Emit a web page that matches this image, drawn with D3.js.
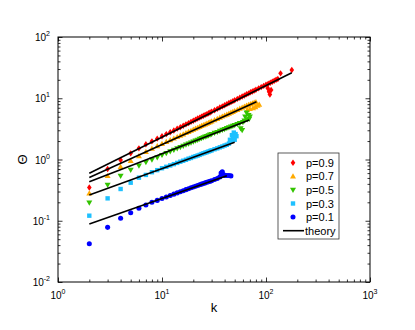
<!DOCTYPE html>
<html>
<head>
<meta charset="utf-8">
<script src="https://cdn.jsdelivr.net/npm/d3@7"></script>
<style>
  body { margin: 0; background: #fff; }
  text { font-family: "Liberation Sans", Arial, sans-serif; fill: #000; }
</style>
</head>
<body>
<div id="chart"></div>
<script>
// measured points [k, Theta]
const p09 = [[2,0.35],[3,0.70],[4,0.98],[5,1.26],[6,1.52],[7,1.77],[8,1.98],[9,2.19],[10,2.40],[11,2.60],[12,2.79],[13,2.98],[14,3.19],[15,3.37],[16,3.55],[17,3.75],[18,3.92],[19,4.12],[20,4.30],[21,4.47],[22,4.66],[23,4.82],[24,5.02],[25,5.18],[26,5.36],[27,5.50],[28,5.70],[29,5.86],[30,6.05],[32,6.38],[34,6.70],[36,7.05],[38,7.36],[40,7.70],[42,8.02],[44,8.35],[46,8.64],[48,8.96],[50,9.30],[53,9.75],[56,10.2],[59,10.7],[62,11.1],[65,11.6],[68,12.0],[71,12.5],[74,12.9],[77,13.3],[80,13.8],[85,14.5],[90,15.2],[95,15.9],[100,16.6],[104,14.6],[105,17.2],[107,12.8],[109,11.5],[110,17.9],[112,13.6],[115,18.6],[120,19.3],[125,20.0],[130,20.6],[138,25.5],[177,28.9]];
const p07 = [[2,0.28],[3,0.54],[4,0.76],[5,0.955],[6,1.14],[7,1.34],[8,1.51],[9,1.66],[10,1.80],[11,1.94],[12,2.08],[13,2.21],[14,2.34],[15,2.47],[16,2.59],[17,2.72],[18,2.84],[19,2.96],[20,3.08],[21,3.20],[22,3.31],[23,3.42],[24,3.54],[25,3.66],[26,3.77],[27,3.88],[28,3.99],[29,4.10],[30,4.21],[32,4.42],[34,4.63],[36,4.84],[38,5.05],[40,5.25],[42,5.44],[44,5.64],[46,5.84],[48,6.03],[50,6.22],[53,6.50],[56,6.78],[59,7.05],[62,7.32],[65,7.58],[66,6.4],[68,7.85],[70,6.7],[71,8.05],[74,8.3],[75,6.9],[77,8.5],[79,7.2],[80,8.7],[83,7.6],[86,7.9]];
const p05 = [[2,0.197],[3,0.384],[4,0.54],[5,0.674],[6,0.79],[7,0.90],[8,0.99],[9,1.08],[10,1.18],[11,1.27],[12,1.35],[13,1.43],[14,1.51],[15,1.59],[16,1.66],[17,1.74],[18,1.81],[19,1.88],[20,1.95],[21,2.02],[22,2.09],[23,2.16],[24,2.22],[25,2.29],[26,2.35],[27,2.40],[28,2.46],[29,2.53],[30,2.59],[32,2.71],[34,2.80],[36,2.92],[38,3.03],[40,3.12],[42,3.23],[44,3.33],[46,3.44],[48,3.53],[50,3.62],[53,3.78],[56,3.90],[57,3.2],[59,3.0],[60,4.05],[62,4.3],[63,5.0],[65,5.8],[66,4.5],[68,5.3],[69,4.6],[70,5.0]];
const p03 = [[2,0.121],[3,0.232],[4,0.33],[5,0.418],[6,0.505],[7,0.56],[8,0.62],[9,0.67],[10,0.72],[11,0.76],[12,0.80],[13,0.84],[14,0.88],[15,0.92],[16,0.955],[17,0.99],[18,1.03],[19,1.06],[20,1.10],[21,1.13],[22,1.16],[23,1.19],[24,1.23],[25,1.26],[26,1.29],[27,1.32],[28,1.35],[29,1.38],[30,1.41],[32,1.47],[34,1.52],[36,1.58],[38,1.63],[40,1.69],[42,1.74],[44,1.82],[45,2.1],[46,2.0],[47,2.5],[48,2.3],[49,2.75],[50,2.1],[51,2.6],[52,2.4]];
const p01 = [[2,0.042],[3,0.078],[4,0.11],[5,0.135],[6,0.16],[7,0.181],[8,0.20],[9,0.215],[10,0.23],[11,0.245],[12,0.258],[13,0.272],[14,0.285],[15,0.298],[16,0.31],[17,0.322],[18,0.334],[19,0.345],[20,0.356],[21,0.366],[22,0.376],[23,0.386],[24,0.396],[25,0.405],[26,0.415],[27,0.424],[28,0.433],[29,0.442],[30,0.451],[32,0.47],[34,0.49],[36,0.52],[37,0.6],[38,0.63],[39,0.57],[40,0.55],[42,0.55],[44,0.55],[46,0.54]];

// theory lines (end points of the power laws)
const theory09 = [[2,0.595],[177,26.1]];
const theory07 = [[2,0.51],[81,8.78]];
const theory05 = [[2,0.435],[69,4.41]];
const theory03 = [[2,0.263],[50,1.91]];
const theory01 = [[2,0.0885],[42,0.544]];

const seriesNames = ["p=0.9", "p=0.7", "p=0.5", "p=0.3", "p=0.1"];
const xTicks = [1, 10, 100, 1000];
const yTicks = [0.01, 0.1, 1, 10, 100];

const width = 415, height = 330;
const plotL = 58, plotR = 370, plotT = 37, plotB = 282;

const svg = d3.select("#chart").append("svg")
    .attr("width", width)
    .attr("height", height);

const x = d3.scaleLog().domain([1, 1000]).range([plotL, plotR]);
const y = d3.scaleLog().domain([0.01, 100]).range([plotB, plotT]);

// minor tick positions 2..9 per decade
const minorX = [], minorY = [];
[1, 10, 100].forEach(d => { for (let i = 2; i < 10; i++) minorX.push(d * i); });
[0.01, 0.1, 1, 10].forEach(d => { for (let i = 2; i < 10; i++) minorY.push(d * i); });

const fmtNone = () => "";
function tickAxis(axisFn, scale, vals, size, tr) {
    const g = svg.append("g")
        .attr("transform", tr)
        .call(axisFn(scale).tickValues(vals).tickSize(size).tickFormat(fmtNone));
    g.select(".domain").remove();
    g.selectAll("line").attr("stroke", "#000").attr("stroke-width", 0.8);
}
// ticks point inward on all four sides
tickAxis(d3.axisBottom, x, xTicks, -4.5, `translate(0,${plotB})`);
tickAxis(d3.axisBottom, x, minorX, -2.5, `translate(0,${plotB})`);
tickAxis(d3.axisTop, x, xTicks, -4.5, `translate(0,${plotT})`);
tickAxis(d3.axisTop, x, minorX, -2.5, `translate(0,${plotT})`);
tickAxis(d3.axisLeft, y, yTicks, -4.5, `translate(${plotL},0)`);
tickAxis(d3.axisLeft, y, minorY, -2.5, `translate(${plotL},0)`);
tickAxis(d3.axisRight, y, yTicks, -4.5, `translate(${plotR},0)`);
tickAxis(d3.axisRight, y, minorY, -2.5, `translate(${plotR},0)`);

// frame
svg.append("rect")
    .attr("x", plotL).attr("y", plotT)
    .attr("width", plotR - plotL).attr("height", plotB - plotT)
    .attr("fill", "none").attr("stroke", "#000").attr("stroke-width", 1);

// tick labels 10^n
xTicks.forEach(v => {
    const t = svg.append("text")
        .attr("x", x(v)).attr("y", plotB + 17)
        .attr("text-anchor", "middle")
        .style("font-size", "10px");
    t.append("tspan").text("10");
    t.append("tspan").attr("dy", -5).style("font-size", "7px").text(Math.round(Math.log10(v)));
});
yTicks.forEach(v => {
    const t = svg.append("text")
        .attr("x", plotL - 8).attr("y", y(v) + 4)
        .attr("text-anchor", "end")
        .style("font-size", "10px");
    t.append("tspan").text("10");
    t.append("tspan").attr("dy", -5).style("font-size", "7px").text(Math.round(Math.log10(v)));
});

// axis titles
svg.append("text")
    .attr("x", (plotL + plotR) / 2).attr("y", 312)
    .attr("text-anchor", "middle")
    .style("font-size", "13px")
    .text("k");
svg.append("text")
    .attr("transform", `translate(27,${(plotT + plotB) / 2}) rotate(-90)`)
    .attr("text-anchor", "middle")
    .style("font-size", "13px")
    .text("Θ");

// marker shapes
const markers = [
    { data: p09, color: "#ff0000", path: "M0,-3.2L2.3,0L0,3.2L-2.3,0Z" },
    { data: p07, color: "#ffaa00", path: "M0,-3L3,2.2L-3,2.2Z" },
    { data: p05, color: "#33c400", path: "M0,3L3,-2.2L-3,-2.2Z" },
    { data: p03, color: "#1ec0ff", path: "M-2.2,-2.2H2.2V2.2H-2.2Z" },
    { data: p01, color: "#0000ff", path: d3.symbol(d3.symbolCircle, 20)() }
];

markers.forEach(m => {
    svg.append("g").selectAll("path")
        .data(m.data)
        .join("path")
        .attr("d", m.path)
        .attr("transform", d => `translate(${x(d[0])},${y(d[1])})`)
        .attr("fill", m.color);
});

const line = d3.line().x(d => x(d[0])).y(d => y(d[1]));
[theory09, theory07, theory05, theory03, theory01].forEach(t => {
    svg.append("path")
        .attr("d", line(t))
        .attr("fill", "none")
        .attr("stroke", "#000")
        .attr("stroke-width", 1.6);
});

// legend
const lg = svg.append("g");
lg.append("rect")
    .attr("x", 278).attr("y", 153)
    .attr("width", 61).attr("height", 86)
    .attr("fill", "#fff").attr("stroke", "#333").attr("stroke-width", 0.8);
const rowY = i => 162.7 + i * 13.6;
markers.forEach((m, i) => {
    lg.append("path")
        .attr("d", m.path)
        .attr("transform", `translate(293,${rowY(i)})`)
        .attr("fill", m.color);
    lg.append("text")
        .attr("x", 306).attr("y", rowY(i) + 4)
        .style("font-size", "11px")
        .text(seriesNames[i]);
});
lg.append("line")
    .attr("x1", 283).attr("x2", 304)
    .attr("y1", rowY(5)).attr("y2", rowY(5))
    .attr("stroke", "#000").attr("stroke-width", 1.6);
lg.append("text")
    .attr("x", 305).attr("y", rowY(5) + 4)
    .style("font-size", "11px")
    .text("theory");
</script>
</body>
</html>
